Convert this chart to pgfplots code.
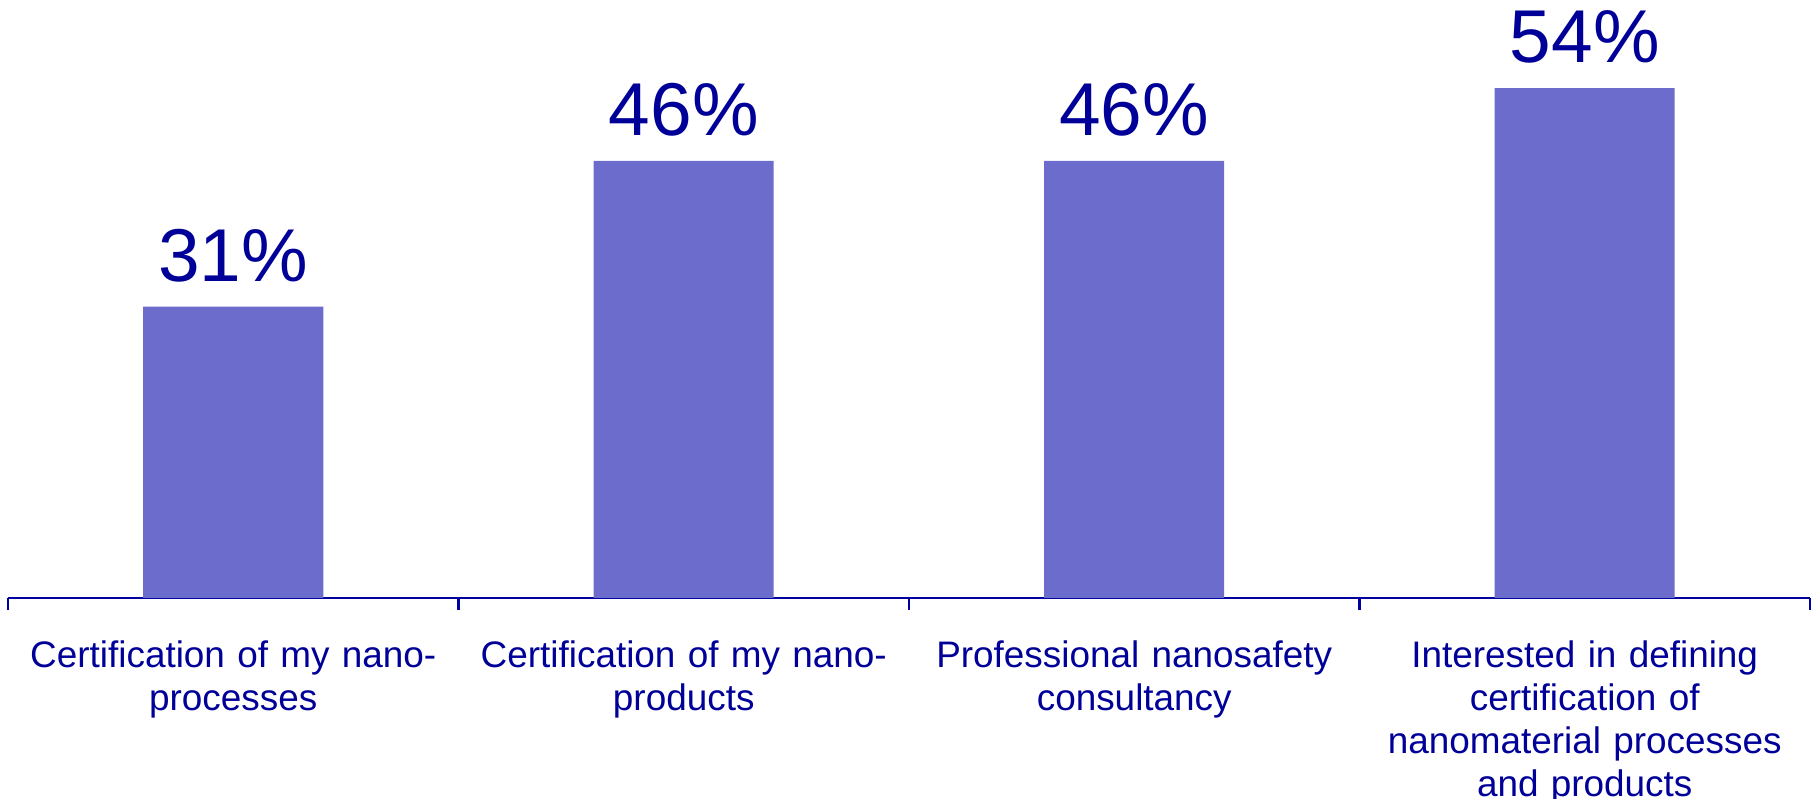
\documentclass[border=0pt]{standalone}
\usepackage{pgfplots}
\pgfplotsset{compat=1.18}
\usepackage{fontspec}
\setmainfont{Liberation Sans}
\definecolor{barc}{RGB}{108,108,205}
\definecolor{txtc}{RGB}{0,0,153}
\definecolor{axc}{RGB}{0,0,160}
\begin{document}
\begin{tikzpicture}
\begin{axis}[
  at={(0.8mm,20.1mm)}, anchor=south west,
  scale only axis,
  width=180.2mm, height=59.8mm,
  xmin=-0.5, xmax=3.5,
  ymin=0, ymax=63.15,
  axis x line*=bottom,
  hide y axis,
  axis line style={color=axc, line width=0.6pt},
  xtick={0,1,2,3},
  xticklabels={{Certification of my nano-\\processes},{Certification of my nano-\\products},{Professional nanosafety\\consultancy},{Interested in defining\\certification of\\nanomaterial processes\\and products}},
  major tick length=0pt,
  minor xtick={-0.5,0.5,1.5,2.5,3.5},
  minor tick length=1.2mm,
  tick align=outside,
  minor tick style={color=axc, line width=0.6pt},
  x tick label style={font=\fontsize{10.5pt}{12.2pt}\selectfont, text=txtc, align=center, text width=44mm, inner sep=0pt, anchor=north, yshift=-4.2mm},
  ybar, bar width=18mm,
  nodes near coords={\pgfmathprintnumber[assume math mode=true, fixed, precision=0]{\pgfplotspointmeta}\%},
  every node near coord/.append style={font=\fontsize{21.3pt}{24pt}\selectfont, text=txtc, inner sep=0pt, yshift=2.4mm},
  clip=false,
]
\addplot[fill=barc, draw=none] coordinates {(0,30.77) (1,46.15) (2,46.15) (3,53.85)};
\end{axis}
\pgfresetboundingbox
\path[use as bounding box] (0,0) rectangle (182mm,79.9mm);
\end{tikzpicture}
\end{document}
